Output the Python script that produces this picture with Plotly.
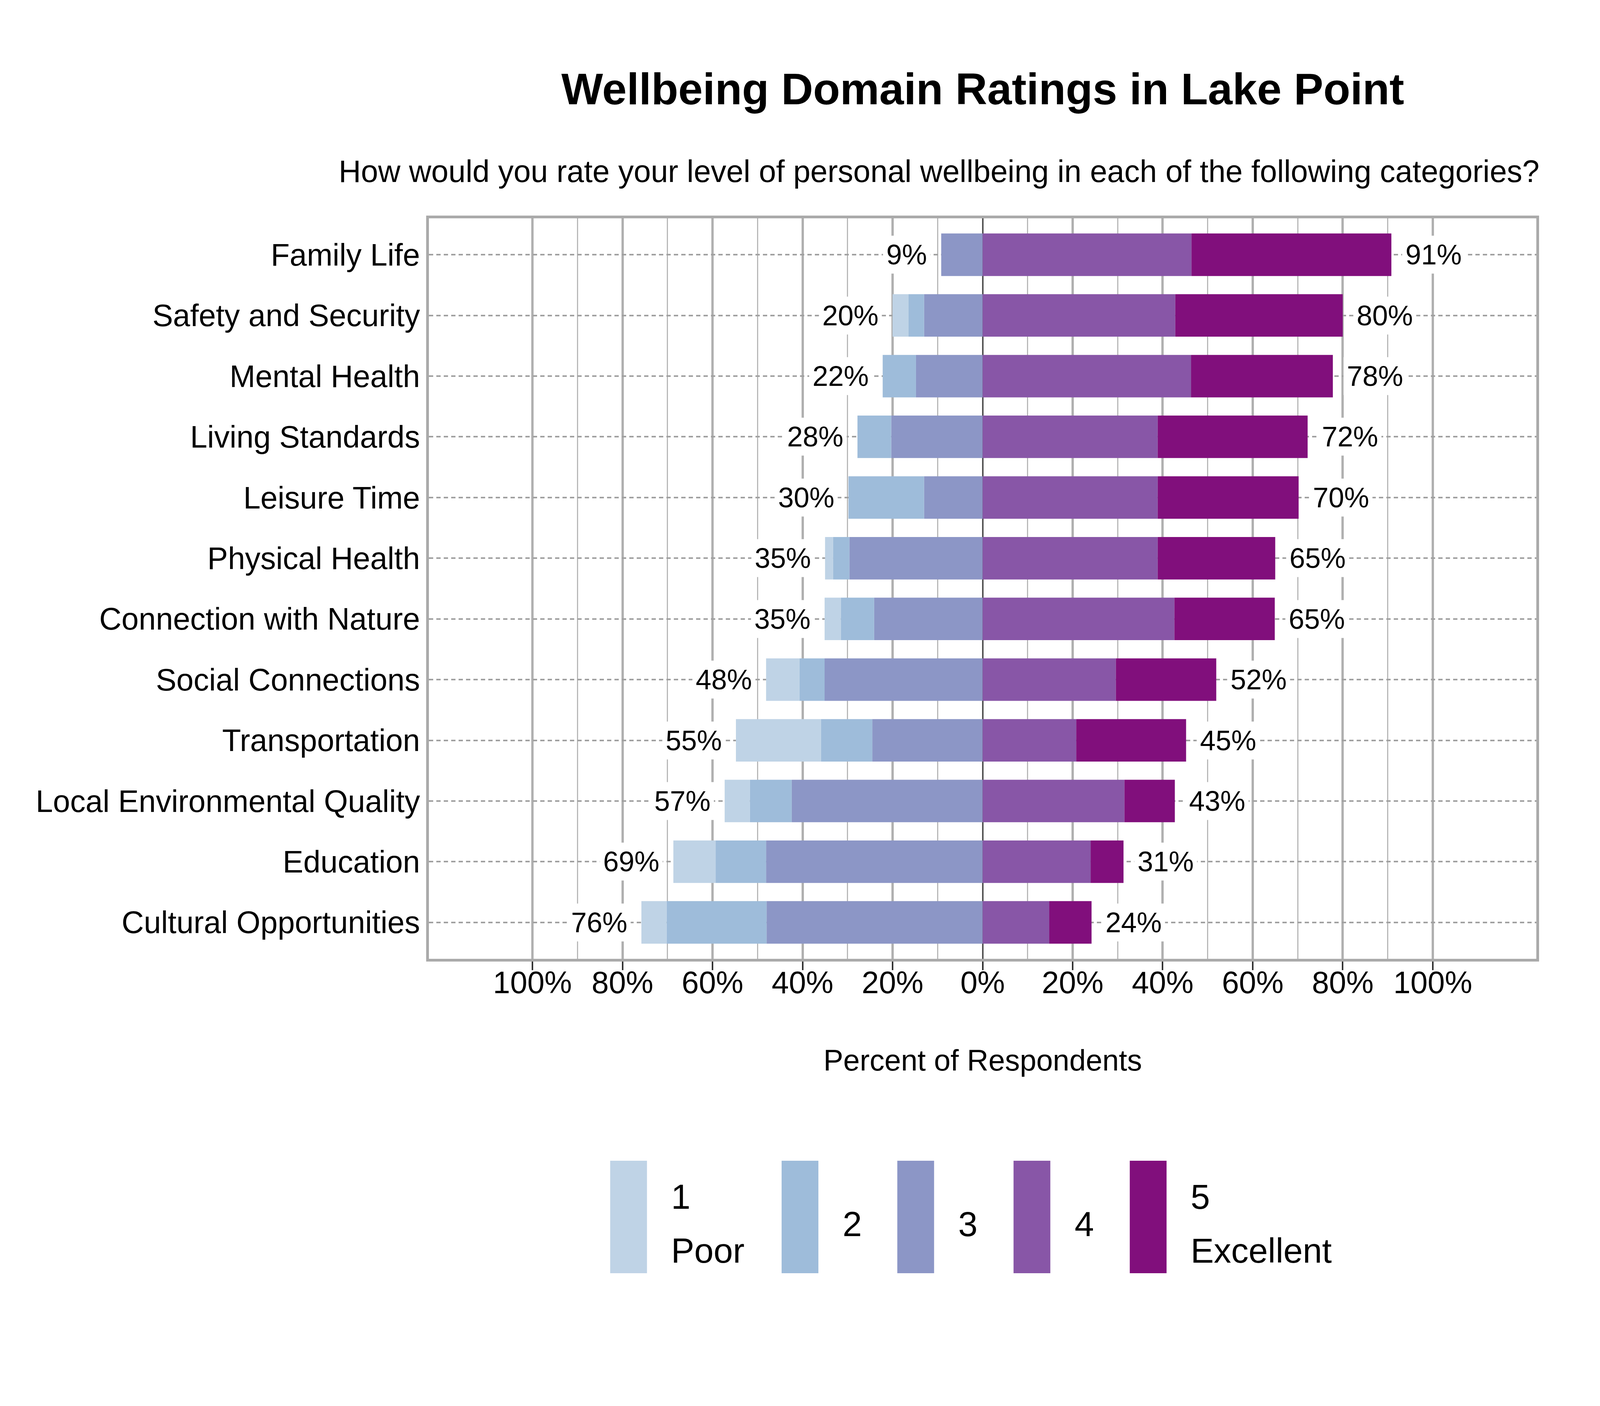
import plotly.graph_objects as go

# Wellbeing ratings, percent of respondents per rating (1 = Poor ... 5 = Excellent)
categories = [
    "Family Life", "Safety and Security", "Mental Health", "Living Standards",
    "Leisure Time", "Physical Health", "Connection with Nature", "Social Connections",
    "Transportation", "Local Environmental Quality", "Education", "Cultural Opportunities",
]
rating_1 = [0.0, 3.5, 0.0, 0.0, 0.0, 1.8, 3.6, 7.4, 18.9, 5.6, 9.4, 5.6]
rating_2 = [0.0, 3.5, 7.4, 7.5, 16.8, 3.6, 7.4, 5.6, 11.4, 9.3, 11.2, 22.2]
rating_3 = [9.2, 13.0, 14.8, 20.3, 13.0, 29.6, 24.1, 35.1, 24.5, 42.4, 48.1, 48.0]
rating_4 = [46.4, 42.8, 46.3, 38.9, 38.9, 38.9, 42.6, 29.6, 20.8, 31.5, 24.0, 14.8]
rating_5 = [44.4, 37.2, 31.5, 33.3, 31.3, 26.1, 22.3, 22.3, 24.4, 11.2, 7.3, 9.4]

legend_labels = [["1", "Poor"], ["2"], ["3"], ["4"], ["5", "Excellent"]]
colors = ["#bfd3e6", "#9ebcda", "#8c96c6", "#8856a7", "#810f7c"]

tick_vals = [-100, -80, -60, -40, -20, 0, 20, 40, 60, 80, 100]
tick_text = [f"{abs(v)}%" for v in tick_vals]
minor_vals = [-90, -70, -50, -30, -10, 10, 30, 50, 70, 90]

neg_total = [a + b + c for a, b, c in zip(rating_1, rating_2, rating_3)]
pos_total = [a + b for a, b in zip(rating_4, rating_5)]

FONT = "Liberation Sans, Arial, sans-serif"

# the browser window is 4096x3600; layout is measured on the 6000x3600 reference
W, H = 4096, 3600
KX = W / 6000
PL, PR, PT, PB = 1596, 5750, 551, 2447   # plot area in reference pixels


def px_x(x):
    return (x - PL) / (PR - PL)


def px_y(y):
    return (PB - y) / (PB - PT)


def fs(size):
    return round(size * KX)


fig = go.Figure()

# negative side: 3 next to zero, then 2, then 1
for vals, col in [(rating_3, colors[2]), (rating_2, colors[1]), (rating_1, colors[0])]:
    fig.add_trace(go.Bar(
        y=categories, x=[-v for v in vals], orientation='h',
        marker=dict(color=col, line=dict(width=0)), showlegend=False, hoverinfo='skip'
    ))
for vals, col in [(rating_4, colors[3]), (rating_5, colors[4])]:
    fig.add_trace(go.Bar(
        y=categories, x=vals, orientation='h',
        marker=dict(color=col, line=dict(width=0)), showlegend=False, hoverinfo='skip'
    ))

annotations = []
# percentage labels at the bar ends
for cat, n, p in zip(categories, neg_total, pos_total):
    annotations.append(dict(
        x=-n, y=cat, xref='x', yref='y', text=f"{round(n)}%", showarrow=False,
        xanchor='right', yanchor='middle', xshift=-27, bgcolor='white', borderpad=8,
        font=dict(family=FONT, size=fs(106), color='black')
    ))
    annotations.append(dict(
        x=p, y=cat, xref='x', yref='y', text=f"{round(p)}%", showarrow=False,
        xanchor='left', yanchor='middle', xshift=27, bgcolor='white', borderpad=8,
        font=dict(family=FONT, size=fs(106), color='black')
    ))

# title, subtitle, x axis title
annotations.append(dict(
    x=0.5, y=px_y(220), xref='paper', yref='paper', text="Wellbeing Domain Ratings in Lake Point",
    showarrow=False, xanchor='center', yanchor='middle',
    font=dict(family=FONT, size=fs(166), color='black', weight='bold')
))
annotations.append(dict(
    x=px_x(3510), y=px_y(430), xref='paper', yref='paper',
    text="How would you rate your level of personal wellbeing in each of the following categories?",
    showarrow=False, xanchor='center', yanchor='middle',
    font=dict(family=FONT, size=fs(116), color='black')
))
annotations.append(dict(
    x=0.5, y=px_y(2706), xref='paper', yref='paper', text="Percent of Respondents",
    showarrow=False, xanchor='center', yanchor='middle',
    font=dict(family=FONT, size=fs(112), color='black')
))

# hand-drawn legend with tall colour keys
shapes = []
key_left = [2276, 2919, 3353, 3789, 4225]
for left, col, lab in zip(key_left, colors, legend_labels):
    shapes.append(dict(
        type='rect', xref='paper', yref='paper',
        x0=px_x(left), x1=px_x(left + 138), y0=px_y(3252), y1=px_y(2964),
        fillcolor=col, line=dict(width=0)
    ))
    if len(lab) == 1:
        rows = [(lab[0], 3126)]
    else:
        rows = [(lab[0], 3056), (lab[1], 3194)]
    for txt, ymid in rows:
        annotations.append(dict(
            x=px_x(left + 226), y=px_y(ymid), xref='paper', yref='paper', text=txt,
            showarrow=False, xanchor='left', yanchor='middle',
            font=dict(family=FONT, size=fs(131), color='black')
        ))

fig.update_layout(
    width=W, height=H,
    margin=dict(l=round(PL * KX), r=W - round(PR * KX), t=PT, b=H - PB),
    barmode='relative', bargap=0.30,
    plot_bgcolor='white', paper_bgcolor='white',
    showlegend=False,
    font=dict(family=FONT, color='black'),
    xaxis=dict(
        range=[-123, 123], tickvals=tick_vals, ticktext=tick_text,
        tickfont=dict(family=FONT, size=fs(115), color='black'),
        ticks='outside', ticklen=22, tickwidth=4, tickcolor='#333333',
        ticklabelstandoff=-36,
        showgrid=True, gridcolor='#b0b0b0', gridwidth=6,
        minor=dict(tickvals=minor_vals, showgrid=True, gridcolor='#b8b8b8', gridwidth=3, ticks=''),
        zeroline=True, zerolinecolor='#555555', zerolinewidth=4,
        showline=True, mirror=True, linecolor='#aaaaaa', linewidth=7,
        fixedrange=True,
    ),
    yaxis=dict(
        categoryorder='array', categoryarray=categories,
        range=[len(categories) - 0.4, -0.6],
        tickfont=dict(family=FONT, size=fs(116), color='black'),
        ticks='', showgrid=True, gridcolor='#a0a0a0', gridwidth=4, griddash='11px,8px',
        showline=True, mirror=True, linecolor='#aaaaaa', linewidth=7,
        fixedrange=True,
    ),
    annotations=annotations,
    shapes=shapes,
)

fig.write_html("out.html", config={'displayModeBar': False})
